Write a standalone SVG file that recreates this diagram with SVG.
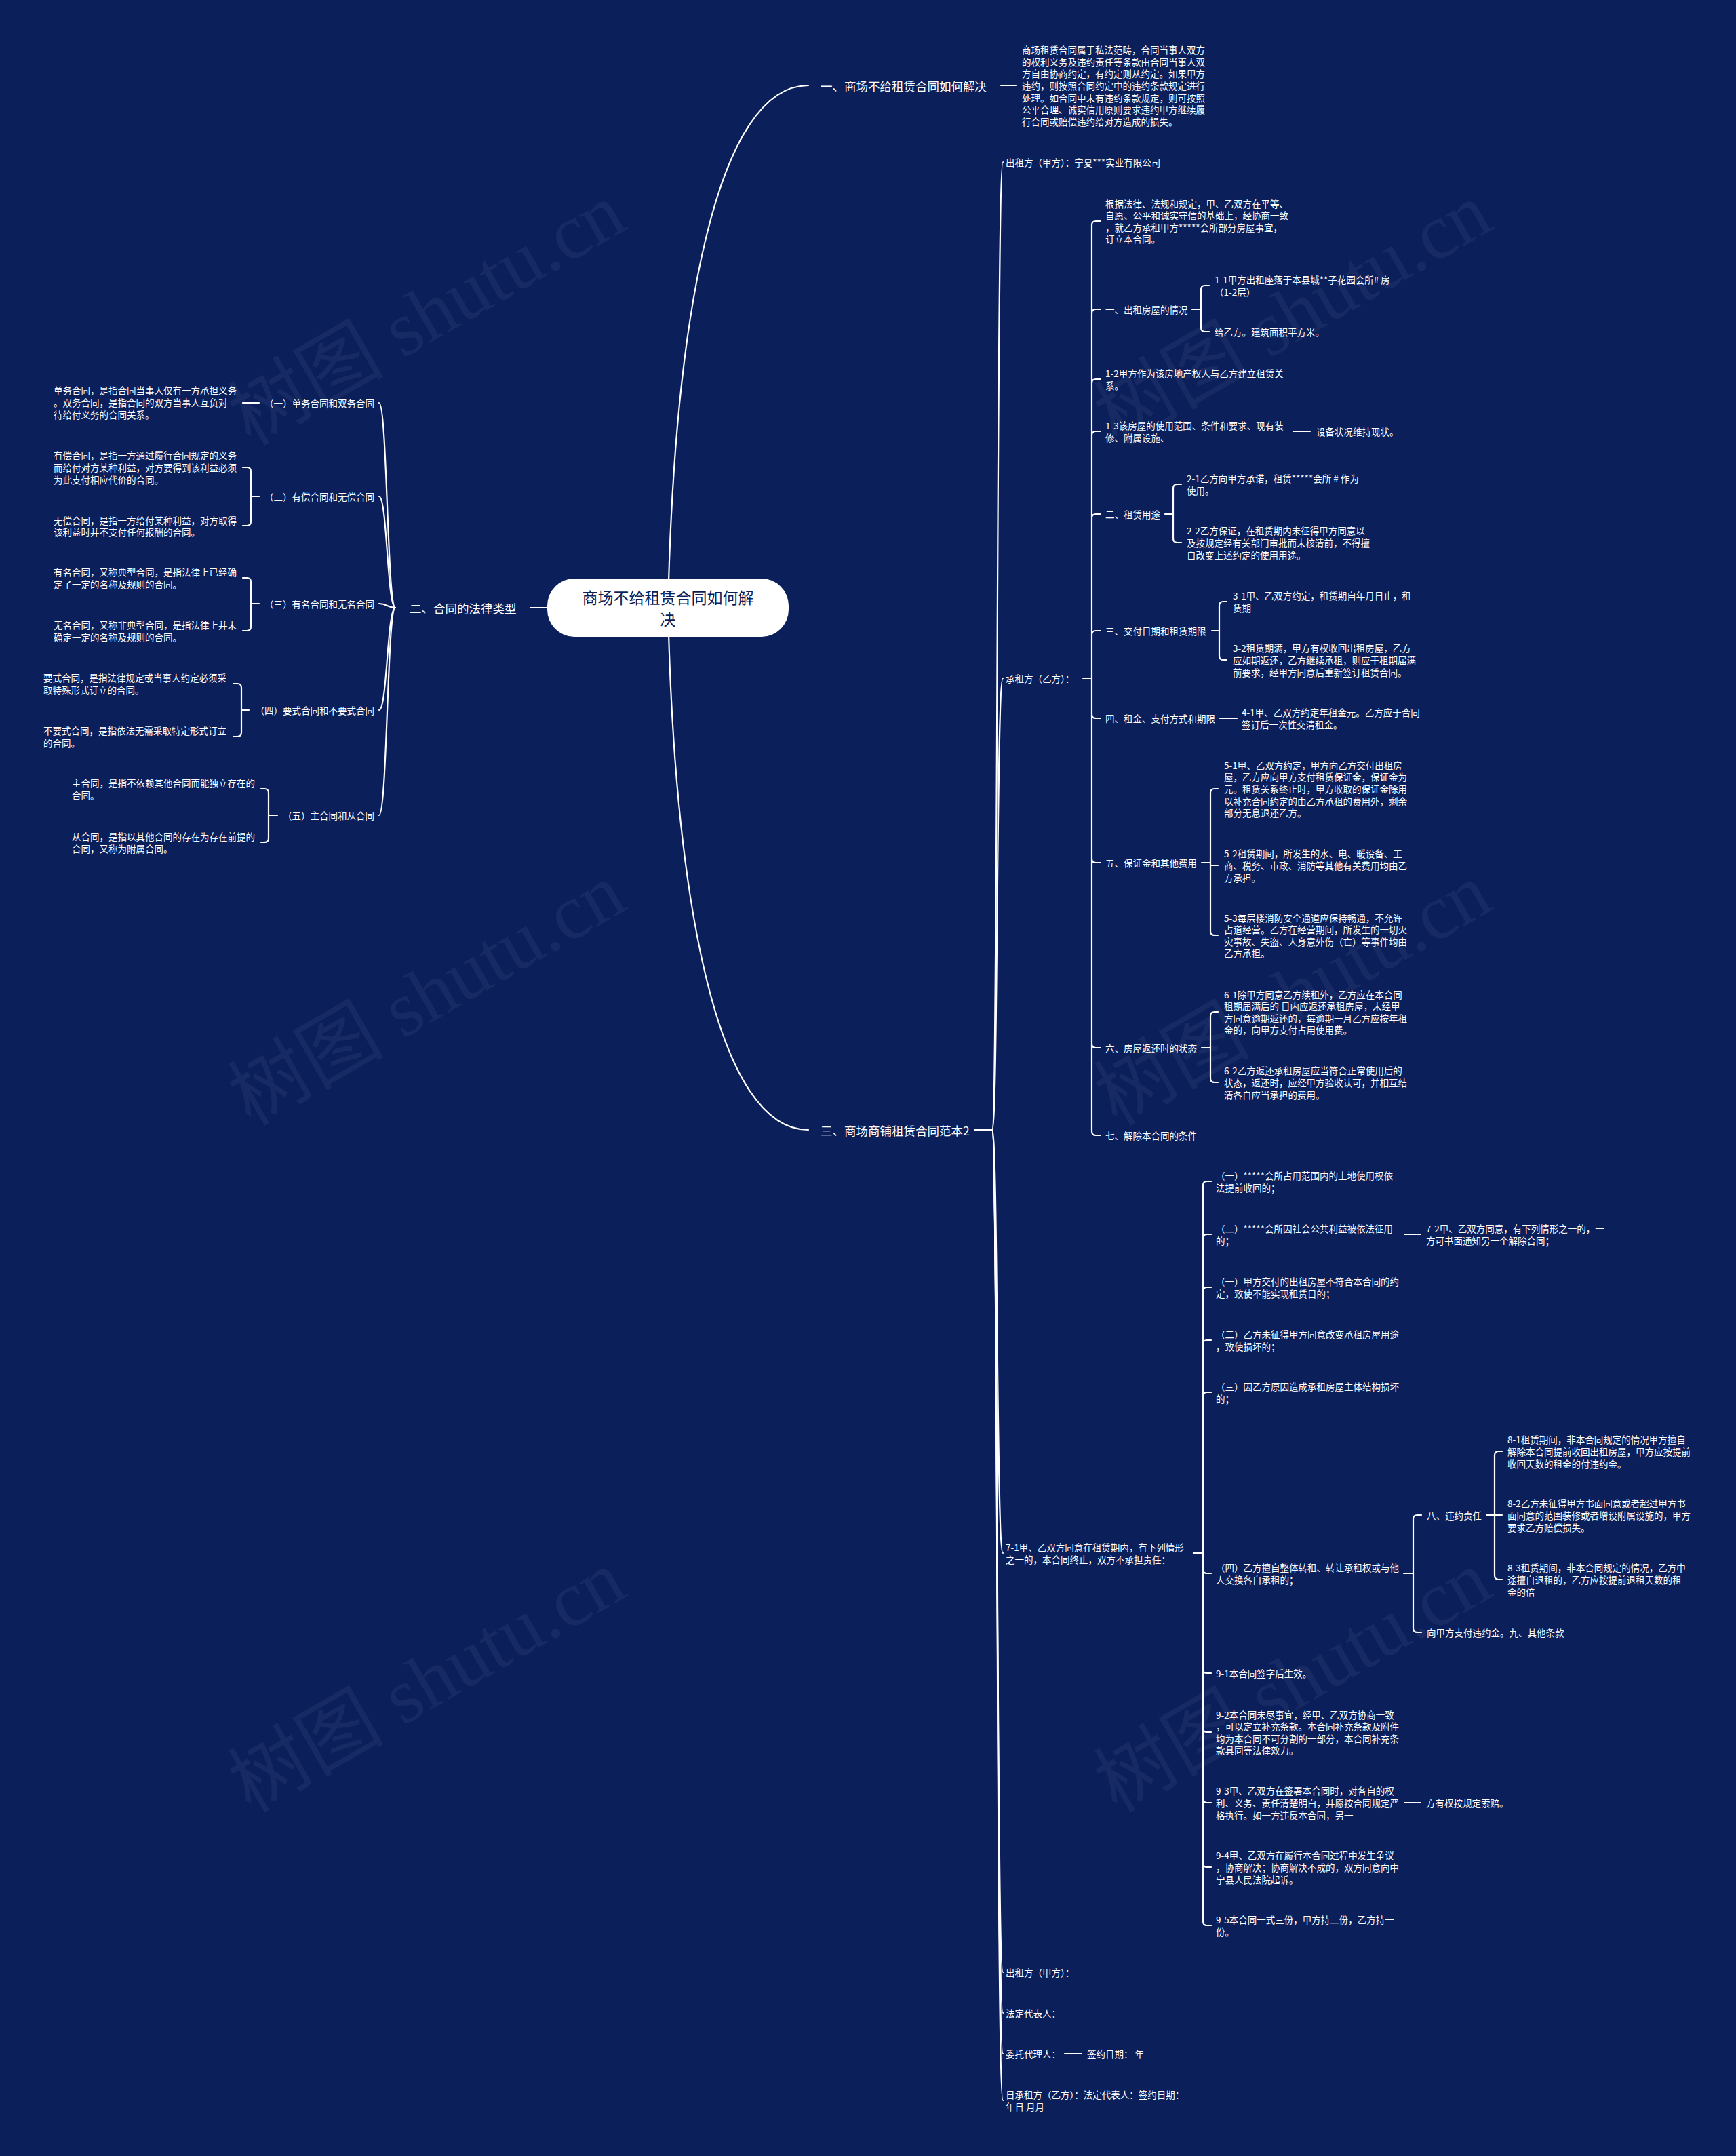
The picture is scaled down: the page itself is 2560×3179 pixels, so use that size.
<svg xmlns="http://www.w3.org/2000/svg" width="2560" height="3179" viewBox="0 0 2560 3179">
<style>
.t{font-family:"Noto Sans CJK SC","Noto Sans",sans-serif;fill:#ffffff;font-size:13.5px;dominant-baseline:central}
.m{font-size:17.5px}
.e{text-anchor:end}
.c{fill:none;stroke:#ffffff;stroke-width:2.2;stroke-linecap:round;stroke-linejoin:round}
.w{font-family:"Liberation Serif","Noto Sans CJK SC",serif;font-size:115px;fill:#ffffff;fill-opacity:0.05}
</style>
<rect x="0" y="0" width="2560" height="3179" fill="#0b1f5b"/>
<g id="watermark">
<text class="w" transform="translate(649 497) rotate(-30)" text-anchor="middle">树图 shutu.cn</text>
<text class="w" transform="translate(1926 497) rotate(-30)" text-anchor="middle">树图 shutu.cn</text>
<text class="w" transform="translate(649 1500) rotate(-30)" text-anchor="middle">树图 shutu.cn</text>
<text class="w" transform="translate(1926 1500) rotate(-30)" text-anchor="middle">树图 shutu.cn</text>
<text class="w" transform="translate(649 2513) rotate(-30)" text-anchor="middle">树图 shutu.cn</text>
<text class="w" transform="translate(1926 2513) rotate(-30)" text-anchor="middle">树图 shutu.cn</text>
</g>
<g id="connectors">
<path class="c" d="M985 896 C995 450 1060 126 1192 126"/>
<path class="c" d="M985 896 C995 1340 1060 1666 1192 1666"/>
<path class="c" d="M782 896 H807"/>
<path class="c" d="M1476 126 H1498"/>
<!-- left trunk -->
<path class="c" d="M583 896 C571 896 571 594 559 594"/>
<path class="c" d="M583 896 C571 896 571 732 559 732"/>
<path class="c" d="M583 896 C571 896 571 890 559 890"/>
<path class="c" d="M583 896 C571 896 571 1047 559 1047"/>
<path class="c" d="M583 896 C571 896 571 1202 559 1202"/>
<!-- left leaves -->
<path class="c" d="M382 594 H358"/>
<path class="c" d="M382 732 H370 M370 732 V695 Q370 689 364 689 H358 M370 732 V769 Q370 775 364 775 H358"/>
<path class="c" d="M382 890 H370 M370 890 V858 Q370 852 364 852 H358 M370 890 V924 Q370 930 364 930 H358"/>
<path class="c" d="M367 1047 H356 M356 1047 V1014 Q356 1008 350 1008 H344 M356 1047 V1080 Q356 1086 350 1086 H344"/>
<path class="c" d="M409 1202 H396 M396 1202 V1169 Q396 1163 390 1163 H385 M396 1202 V1236 Q396 1242 390 1242 H385"/>
<!-- main trunk of section 3 -->
<path class="c" d="M1437 1666 H1463"/>
<path class="c" d="M1463 1666 C1472 1666 1469 239 1479 239"/>
<path class="c" d="M1463 1666 C1472 1666 1469 1000 1479 1000"/>
<path class="c" d="M1463 1666 C1472 1666 1469 2290 1479 2290"/>
<path class="c" d="M1463 1666 C1472 1666 1469 2908 1479 2908"/>
<path class="c" d="M1463 1666 C1472 1666 1469 2968 1479 2968"/>
<path class="c" d="M1463 1666 C1472 1666 1469 3028 1479 3028"/>
<path class="c" d="M1463 1666 C1472 1666 1469 3097 1479 3097"/>
<!-- 承租方 sub trunk -->
<path class="c" d="M1597 1000 H1610"/>
<path class="c" d="M1610 1000 V332 Q1610 326 1616 326 H1623 M1610 1000 V462 Q1610 456 1616 456 H1623 M1610 1000 V565 Q1610 559 1616 559 H1623 M1610 1000 V642 Q1610 636 1616 636 H1623 M1610 1000 V764 Q1610 758 1616 758 H1623 M1610 1000 V936 Q1610 930 1616 930 H1623"/>
<path class="c" d="M1610 1000 V1053 Q1610 1059 1616 1059 H1623 M1610 1000 V1266 Q1610 1272 1616 1272 H1623 M1610 1000 V1539 Q1610 1545 1616 1545 H1623 M1610 1000 V1668 Q1610 1674 1616 1674 H1623"/>
<path class="c" d="M1758 456 H1771 M1771 456 V427 Q1771 421 1777 421 H1783 M1771 456 V483 Q1771 489 1777 489 H1783"/>
<path class="c" d="M1907 636 H1932"/>
<path class="c" d="M1718 758 H1730 M1730 758 V720 Q1730 714 1736 714 H1742 M1730 758 V794 Q1730 800 1736 800 H1742"/>
<path class="c" d="M1787 930 H1798 M1798 930 V893 Q1798 887 1804 887 H1809 M1798 930 V967 Q1798 973 1804 973 H1809"/>
<path class="c" d="M1799 1059 H1824"/>
<path class="c" d="M1772 1272 H1785 M1785 1272 V1169 Q1785 1163 1791 1163 H1796 M1785 1272 V1276 H1796 M1785 1272 V1373 Q1785 1379 1791 1379 H1796"/>
<path class="c" d="M1772 1545 H1785 M1785 1545 V1498 Q1785 1492 1791 1492 H1796 M1785 1545 V1590 Q1785 1596 1791 1596 H1796"/>
<!-- 7-1 sub trunk -->
<path class="c" d="M1760 2290 H1774"/>
<path class="c" d="M1774 2290 V1748 Q1774 1742 1780 1742 H1786 M1774 2290 V1826 Q1774 1820 1780 1820 H1786 M1774 2290 V1904 Q1774 1898 1780 1898 H1786 M1774 2290 V1982 Q1774 1976 1780 1976 H1786 M1774 2290 V2059 Q1774 2053 1780 2053 H1786"/>
<path class="c" d="M1774 2290 V2314 Q1774 2320 1780 2320 H1786 M1774 2290 V2461 Q1774 2467 1780 2467 H1786 M1774 2290 V2548 Q1774 2554 1780 2554 H1786 M1774 2290 V2652 Q1774 2658 1780 2658 H1786 M1774 2290 V2747 Q1774 2753 1780 2753 H1786 M1774 2290 V2833 Q1774 2839 1780 2839 H1786"/>
<path class="c" d="M2071 1820 H2095"/>
<path class="c" d="M2070 2320 H2084 M2084 2320 V2240 Q2084 2234 2090 2234 H2096 M2084 2320 V2401 Q2084 2407 2090 2407 H2096"/>
<path class="c" d="M2192 2234 H2204 M2204 2234 V2146 Q2204 2140 2210 2140 H2215 M2204 2234 H2215 M2204 2234 V2323 Q2204 2329 2210 2329 H2215"/>
<path class="c" d="M2071 2658 H2095"/>
<path class="c" d="M1570 3028 H1595"/>
</g>
<g id="root">
<rect x="807" y="853" width="356" height="86" rx="40" fill="#ffffff"/>
<text class="t" style="font-size:23px;fill:#0b1f5b" text-anchor="middle"><tspan x="985" y="880">商场不给租赁合同如何解</tspan><tspan x="985" y="912">决</tspan></text>
</g>
<g id="n-branch1">
<text class="t m" x="1210" y="126">一、商场不给租赁合同如何解决</text>
</g>
<g id="n-branch1-text">
<text class="t"><tspan x="1507" y="73.2">商场租赁合同属于私法范畴，合同当事人双方</tspan><tspan x="1507" y="90.8">的权利义务及违约责任等条款由合同当事人双</tspan><tspan x="1507" y="108.4">方自由协商约定，有约定则从约定。如果甲方</tspan><tspan x="1507" y="126">违约，则按照合同约定中的违约条款规定进行</tspan><tspan x="1507" y="143.6">处理。如合同中未有违约条款规定，则可按照</tspan><tspan x="1507" y="161.2">公平合理、诚实信用原则要求违约甲方继续履</tspan><tspan x="1507" y="178.8">行合同或赔偿违约给对方造成的损失。</tspan></text>
</g>
<g id="n-branch2">
<text class="t m" x="604" y="896">二、合同的法律类型</text>
</g>
<g id="n-l1"><text class="t e" x="552" y="594">（一）单务合同和双务合同</text></g>
<g id="n-l1a"><text class="t"><tspan x="79" y="575.4">单务合同，是指合同当事人仅有一方承担义务</tspan><tspan x="79" y="593">。双务合同，是指合同的双方当事人互负对</tspan><tspan x="79" y="610.6">待给付义务的合同关系。</tspan></text></g>
<g id="n-l2"><text class="t e" x="552" y="732">（二）有偿合同和无偿合同</text></g>
<g id="n-l2a"><text class="t"><tspan x="79" y="671.4">有偿合同，是指一方通过履行合同规定的义务</tspan><tspan x="79" y="689">而给付对方某种利益，对方要得到该利益必须</tspan><tspan x="79" y="706.6">为此支付相应代价的合同。</tspan></text></g>
<g id="n-l2b"><text class="t"><tspan x="79" y="766.7">无偿合同，是指一方给付某种利益，对方取得</tspan><tspan x="79" y="784.3">该利益时并不支付任何报酬的合同。</tspan></text></g>
<g id="n-l3"><text class="t e" x="552" y="890">（三）有名合同和无名合同</text></g>
<g id="n-l3a"><text class="t"><tspan x="79" y="843.2">有名合同，又称典型合同，是指法律上已经确</tspan><tspan x="79" y="860.8">定了一定的名称及规则的合同。</tspan></text></g>
<g id="n-l3b"><text class="t"><tspan x="79" y="921.2">无名合同，又称非典型合同，是指法律上并未</tspan><tspan x="79" y="938.8">确定一定的名称及规则的合同。</tspan></text></g>
<g id="n-l4"><text class="t e" x="552" y="1047">（四）要式合同和不要式合同</text></g>
<g id="n-l4a"><text class="t"><tspan x="64" y="999.2">要式合同，是指法律规定或当事人约定必须采</tspan><tspan x="64" y="1016.8">取特殊形式订立的合同。</tspan></text></g>
<g id="n-l4b"><text class="t"><tspan x="64" y="1077.2">不要式合同，是指依法无需采取特定形式订立</tspan><tspan x="64" y="1094.8">的合同。</tspan></text></g>
<g id="n-l5"><text class="t e" x="552" y="1202">（五）主合同和从合同</text></g>
<g id="n-l5a"><text class="t"><tspan x="106" y="1154.2">主合同，是指不依赖其他合同而能独立存在的</tspan><tspan x="106" y="1171.8">合同。</tspan></text></g>
<g id="n-l5b"><text class="t"><tspan x="106" y="1233.2">从合同，是指以其他合同的存在为存在前提的</tspan><tspan x="106" y="1250.8">合同，又称为附属合同。</tspan></text></g>
<g id="n-branch3">
<text class="t m" x="1210" y="1666">三、商场商铺租赁合同范本2</text>
</g>
<g id="n-c1"><text class="t" x="1483" y="239">出租方（甲方）：宁夏***实业有限公司</text></g>
<g id="n-c2"><text class="t" x="1483" y="1000">承租方（乙方）：</text></g>
<g id="n-a1"><text class="t"><tspan x="1630" y="299.6">根据法律、法规和规定，甲、乙双方在平等、</tspan><tspan x="1630" y="317.2">自愿、公平和诚实守信的基础上，经协商一致</tspan><tspan x="1630" y="334.8">，就乙方承租甲方*****会所部分房屋事宜，</tspan><tspan x="1630" y="352.4">订立本合同。</tspan></text></g>
<g id="n-a2"><text class="t" x="1630" y="456">一、出租房屋的情况</text></g>
<g id="n-a2a"><text class="t"><tspan x="1791" y="412.2">1-1甲方出租座落于本县城**子花园会所# 房</tspan><tspan x="1791" y="429.8">（1-2层）</tspan></text></g>
<g id="n-a2b"><text class="t" x="1791" y="489">给乙方。建筑面积平方米。</text></g>
<g id="n-a3"><text class="t"><tspan x="1630" y="550.2">1-2甲方作为该房地产权人与乙方建立租赁关</tspan><tspan x="1630" y="567.8">系。</tspan></text></g>
<g id="n-a4"><text class="t"><tspan x="1630" y="627.2">1-3该房屋的使用范围、条件和要求、现有装</tspan><tspan x="1630" y="644.8">修、附属设施、</tspan></text></g>
<g id="n-a4a"><text class="t" x="1941" y="636">设备状况维持现状。</text></g>
<g id="n-a5"><text class="t" x="1630" y="758">二、租赁用途</text></g>
<g id="n-a5a"><text class="t"><tspan x="1750" y="705.2">2-1乙方向甲方承诺，租赁*****会所 # 作为</tspan><tspan x="1750" y="722.8">使用。</tspan></text></g>
<g id="n-a5b"><text class="t"><tspan x="1750" y="782.4">2-2乙方保证，在租赁期内未征得甲方同意以</tspan><tspan x="1750" y="800">及按规定经有关部门审批而未核清前，不得擅</tspan><tspan x="1750" y="817.6">自改变上述约定的使用用途。</tspan></text></g>
<g id="n-a6"><text class="t" x="1630" y="930">三、交付日期和租赁期限</text></g>
<g id="n-a6a"><text class="t"><tspan x="1818" y="878.2">3-1甲、乙双方约定，租赁期自年月日止，租</tspan><tspan x="1818" y="895.8">赁期</tspan></text></g>
<g id="n-a6b"><text class="t"><tspan x="1818" y="955.4">3-2租赁期满，甲方有权收回出租房屋，乙方</tspan><tspan x="1818" y="973">应如期返还，乙方继续承租，则应于租期届满</tspan><tspan x="1818" y="990.6">前要求，经甲方同意后重新签订租赁合同。</tspan></text></g>
<g id="n-a7"><text class="t" x="1630" y="1059">四、租金、支付方式和期限</text></g>
<g id="n-a7a"><text class="t"><tspan x="1831" y="1050.2">4-1甲、乙双方约定年租金元。乙方应于合同</tspan><tspan x="1831" y="1067.8">签订后一次性交清租金。</tspan></text></g>
<g id="n-a8"><text class="t" x="1630" y="1272">五、保证金和其他费用</text></g>
<g id="n-a8a"><text class="t"><tspan x="1805" y="1127.8">5-1甲、乙双方约定，甲方向乙方交付出租房</tspan><tspan x="1805" y="1145.4">屋，乙方应向甲方支付租赁保证金，保证金为</tspan><tspan x="1805" y="1163">元。租赁关系终止时，甲方收取的保证金除用</tspan><tspan x="1805" y="1180.6">以补充合同约定的由乙方承租的费用外，剩余</tspan><tspan x="1805" y="1198.2">部分无息退还乙方。</tspan></text></g>
<g id="n-a8b"><text class="t"><tspan x="1805" y="1258.4">5-2租赁期间，所发生的水、电、暖设备、工</tspan><tspan x="1805" y="1276">商、税务、市政、消防等其他有关费用均由乙</tspan><tspan x="1805" y="1293.6">方承担。</tspan></text></g>
<g id="n-a8c"><text class="t"><tspan x="1805" y="1352.6">5-3每层楼消防安全通道应保持畅通，不允许</tspan><tspan x="1805" y="1370.2">占道经营。乙方在经营期间，所发生的一切火</tspan><tspan x="1805" y="1387.8">灾事故、失盗、人身意外伤（亡）等事件均由</tspan><tspan x="1805" y="1405.4">乙方承担。</tspan></text></g>
<g id="n-a9"><text class="t" x="1630" y="1545">六、房屋返还时的状态</text></g>
<g id="n-a9a"><text class="t"><tspan x="1805" y="1465.6">6-1除甲方同意乙方续租外，乙方应在本合同</tspan><tspan x="1805" y="1483.2">租期届满后的 日内应返还承租房屋，未经甲</tspan><tspan x="1805" y="1500.8">方同意逾期返还的，每逾期一月乙方应按年租</tspan><tspan x="1805" y="1518.4">金的，向甲方支付占用使用费。</tspan></text></g>
<g id="n-a9b"><text class="t"><tspan x="1805" y="1578.4">6-2乙方返还承租房屋应当符合正常使用后的</tspan><tspan x="1805" y="1596">状态，返还时，应经甲方验收认可，并相互结</tspan><tspan x="1805" y="1613.6">清各自应当承担的费用。</tspan></text></g>
<g id="n-a10"><text class="t" x="1630" y="1674">七、解除本合同的条件</text></g>
<g id="n-c3"><text class="t"><tspan x="1483" y="2281.2">7-1甲、乙双方同意在租赁期内，有下列情形</tspan><tspan x="1483" y="2298.8">之一的，本合同终止，双方不承担责任：</tspan></text></g>
<g id="n-b1"><text class="t"><tspan x="1793" y="1733.2">（一）*****会所占用范围内的土地使用权依</tspan><tspan x="1793" y="1750.8">法提前收回的；</tspan></text></g>
<g id="n-b2"><text class="t"><tspan x="1793" y="1811.2">（二）*****会所因社会公共利益被依法征用</tspan><tspan x="1793" y="1828.8">的；</tspan></text></g>
<g id="n-b2a"><text class="t"><tspan x="2103" y="1811.2">7-2甲、乙双方同意，有下列情形之一的，一</tspan><tspan x="2103" y="1828.8">方可书面通知另一个解除合同；</tspan></text></g>
<g id="n-b3"><text class="t"><tspan x="1793" y="1889.2">（一）甲方交付的出租房屋不符合本合同的约</tspan><tspan x="1793" y="1906.8">定，致使不能实现租赁目的；</tspan></text></g>
<g id="n-b4"><text class="t"><tspan x="1793" y="1967.2">（二）乙方未征得甲方同意改变承租房屋用途</tspan><tspan x="1793" y="1984.8">，致使损坏的；</tspan></text></g>
<g id="n-b5"><text class="t"><tspan x="1793" y="2044.2">（三）因乙方原因造成承租房屋主体结构损坏</tspan><tspan x="1793" y="2061.8">的；</tspan></text></g>
<g id="n-b6"><text class="t"><tspan x="1793" y="2311.2">（四）乙方擅自整体转租、转让承租权或与他</tspan><tspan x="1793" y="2328.8">人交换各自承租的；</tspan></text></g>
<g id="n-b6a"><text class="t" x="2104" y="2234">八、违约责任</text></g>
<g id="n-b6a1"><text class="t"><tspan x="2223" y="2122.4">8-1租赁期间，非本合同规定的情况甲方擅自</tspan><tspan x="2223" y="2140">解除本合同提前收回出租房屋，甲方应按提前</tspan><tspan x="2223" y="2157.6">收回天数的租金的付违约金。</tspan></text></g>
<g id="n-b6a2"><text class="t"><tspan x="2223" y="2216.4">8-2乙方未征得甲方书面同意或者超过甲方书</tspan><tspan x="2223" y="2234">面同意的范围装修或者增设附属设施的，甲方</tspan><tspan x="2223" y="2251.6">要求乙方赔偿损失。</tspan></text></g>
<g id="n-b6a3"><text class="t"><tspan x="2223" y="2311.4">8-3租赁期间，非本合同规定的情况，乙方中</tspan><tspan x="2223" y="2329">途擅自退租的，乙方应按提前退租天数的租</tspan><tspan x="2223" y="2346.6">金的倍</tspan></text></g>
<g id="n-b6b"><text class="t" x="2104" y="2407">向甲方支付违约金。九、其他条款</text></g>
<g id="n-b7"><text class="t" x="1793" y="2467">9-1本合同签字后生效。</text></g>
<g id="n-b8"><text class="t"><tspan x="1793" y="2527.6">9-2本合同未尽事宜，经甲、乙双方协商一致</tspan><tspan x="1793" y="2545.2">，可以定立补充条款。本合同补充条款及附件</tspan><tspan x="1793" y="2562.8">均为本合同不可分割的一部分，本合同补充条</tspan><tspan x="1793" y="2580.4">款具同等法律效力。</tspan></text></g>
<g id="n-b9"><text class="t"><tspan x="1793" y="2640.4">9-3甲、乙双方在签署本合同时，对各自的权</tspan><tspan x="1793" y="2658">利、义务、责任清楚明白，并愿按合同规定严</tspan><tspan x="1793" y="2675.6">格执行。如一方违反本合同，另一</tspan></text></g>
<g id="n-b9a"><text class="t" x="2103" y="2658">方有权按规定索赔。</text></g>
<g id="n-b10"><text class="t"><tspan x="1793" y="2735.4">9-4甲、乙双方在履行本合同过程中发生争议</tspan><tspan x="1793" y="2753">，协商解决；协商解决不成的，双方同意向中</tspan><tspan x="1793" y="2770.6">宁县人民法院起诉。</tspan></text></g>
<g id="n-b11"><text class="t"><tspan x="1793" y="2830.2">9-5本合同一式三份，甲方持二份，乙方持一</tspan><tspan x="1793" y="2847.8">份。</tspan></text></g>
<g id="n-c4"><text class="t" x="1483" y="2908">出租方（甲方）：</text></g>
<g id="n-c5"><text class="t" x="1483" y="2968">法定代表人：</text></g>
<g id="n-c6"><text class="t" x="1483" y="3028">委托代理人：</text></g>
<g id="n-c6a"><text class="t" x="1603" y="3028">签约日期： 年</text></g>
<g id="n-c7"><text class="t"><tspan x="1483" y="3088.2">日承租方（乙方）：法定代表人：签约日期：</tspan><tspan x="1483" y="3105.8">年日 月月</tspan></text></g>
</svg>
